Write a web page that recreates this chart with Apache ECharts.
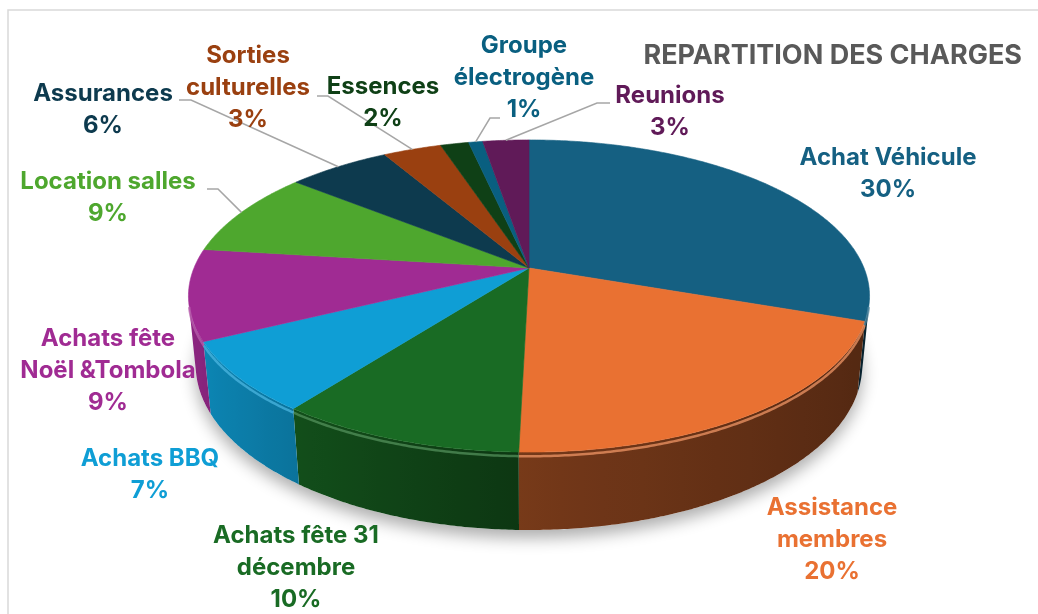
<!DOCTYPE html>
<html><head><meta charset="utf-8">
<script src="https://cdn.jsdelivr.net/npm/echarts@6/dist/echarts.min.js"></script>
<style>html,body{margin:0;padding:0;background:#fff}#c{width:1038px;height:614px}</style>
</head><body><div id="c"></div>
<script>
// ---------- data ----------
const categories = ['Achat Véhicule','Assistance membres','Achats fête 31 décembre','Achats BBQ','Achats fête Noël &Tombola','Location salles','Assurances','Sorties culturelles','Essences','Groupe électrogène','Reunions'];
const values = [30.4, 20.0, 9.9, 7.3, 9.4, 8.9, 5.8, 3.3, 1.6, 0.8, 2.6];
const colors = ['#156082','#E97132','#196B24','#0F9ED5','#A02B93','#4EA72E','#0D3A4E','#9A4010','#0F4016','#095F80','#601A58'];
const titleText = 'REPARTITION DES CHARGES';

// ---------- layout (view + label placement) ----------
const VIEW = {cx: 529, cy: 268, f: 1666, dist: 4.973, phi: 26.8, h: 0.2323};
const FONT = 'bold 24px Inter';
const LINE_H = 32;
const labelLayout = [
  {x: 888, y: 174, br: []},
  {x: 832, y: 540, br: [1]},
  {x: 296, y: 568, br: [3]},
  {x: 150, y: 475, br: []},
  {x: 108, y: 371, br: [2]},
  {x: 108, y: 198, br: [], leader: [[207,189],[218,189]]},
  {x: 103, y: 110, br: [], leader: [[179,100],[191,100]]},
  {x: 248, y: 88,  br: [1], leader: [[317,96],[328,96]]},
  {x: 383, y: 103, br: []},
  {x: 524, y: 78,  br: [1], leader: [[500,118],[490,118]]},
  {x: 670, y: 112, br: [], leader: [[610,103],[597,103]]}
];

// ---------- helpers ----------
const total = values.reduce((a, b) => a + b, 0);
const cum = []; { let acc = 0; values.forEach(v => { cum.push(acc); acc += v; }); }
const DEG = Math.PI / 180;
const sP = Math.sin(VIEW.phi * DEG), cP = Math.cos(VIEW.phi * DEG);
function proj(theta, y) {
  const t = theta * DEG, X = Math.sin(t), Z = -Math.cos(t);
  const depth = VIEW.dist - y * sP - Z * cP;
  const up = y * cP - Z * sP;
  return [VIEW.cx + VIEW.f * X / depth, VIEW.cy - VIEW.f * up / depth];
}
const VIS = Math.acos(-1 / (VIEW.dist * cP)) / DEG; // silhouette angle
const VIS0 = VIS, VIS1 = 360 - VIS;
function rim(a0, a1, y) {
  const pts = []; const n = Math.max(2, Math.ceil((a1 - a0) / 0.5));
  for (let k = 0; k <= n; k++) pts.push(proj(a0 + (a1 - a0) * k / n, y));
  return pts;
}
function rgb(hex) { return [1,3,5].map(i => parseInt(hex.substr(i, 2), 16)); }
function shadeCol(hex, f) { const c = rgb(hex).map(v => Math.max(0, Math.min(255, Math.round(v * f)))); return `rgb(${c[0]},${c[1]},${c[2]})`; }
function lighten(hex, t) { const c = rgb(hex).map(v => Math.round(v + (255 - v) * t)); return `rgb(${c[0]},${c[1]},${c[2]})`; }
function wallShade(theta) { const s = Math.sin(theta * DEG); return s < 0 ? 0.5 - 0.38 * s : 0.5 - 0.15 * s; }
function wrapName(name, br) {
  const w = name.split(' '); let out = '';
  w.forEach((word, k) => { out += word; if (k < w.length - 1) out += br.includes(k + 1) ? '\n' : ' '; });
  return out;
}

function renderItem(params, api) {
  const i = params.dataIndex;
  const a0 = cum[i] / total * 360, a1 = (cum[i] + values[i]) / total * 360;
  const col = colors[i];
  const ch = [];
  if (i === 0) {
    ch.push({type: 'polygon', shape: {points: rim(0, 360, -VIEW.h)}, z2: 0,
      style: {fill: '#ffffff', shadowBlur: 16, shadowOffsetY: 8, shadowColor: 'rgba(0,0,0,0.32)'}});
  }
  // top face
  ch.push({type: 'polygon', z2: 10, shape: {points: [[VIEW.cx, VIEW.cy]].concat(rim(a0, a1, 0))},
    style: {fill: col, stroke: col, lineWidth: 0.6}});
  // wall
  const w0 = Math.max(a0, VIS0), w1 = Math.min(a1, VIS1);
  if (w1 > w0) {
    const top = rim(w0, w1, 0), bot = rim(w0, w1, -VIEW.h).reverse();
    const pts = top.concat(bot);
    const xs = pts.map(p => p[0]); const xmin = Math.min(...xs), xmax = Math.max(...xs);
    const stops = [];
    for (let k = 0; k <= 12; k++) {
      const th = w0 + (w1 - w0) * k / 12;
      const x = (proj(th, 0)[0] + proj(th, -VIEW.h)[0]) / 2;
      stops.push({offset: Math.max(0, Math.min(1, (x - xmin) / Math.max(1, xmax - xmin))), color: shadeCol(col, wallShade(th))});
    }
    stops.sort((p, q) => p.offset - q.offset);
    ch.push({type: 'polygon', z2: 5, shape: {points: pts},
      style: {fill: new echarts.graphic.LinearGradient(0, 0, 1, 0, stops), stroke: null}});
    ch.push({type: 'polyline', z2: 11, shape: {points: rim(w0, w1, -0.012)},
      style: {stroke: lighten(col, 0.25), lineWidth: 2.5, opacity: 0.75, fill: null}});
  }
  // label
  const L = labelLayout[i];
  const pct = Math.round(values[i] / total * 100) + '%';
  ch.push({type: 'text', z2: 30, x: L.x, y: L.y,
    style: {text: wrapName(categories[i], L.br) + '\n' + pct, fill: col, font: FONT,
      align: 'center', verticalAlign: 'middle', textAlign: 'center', textVerticalAlign: 'middle', lineHeight: LINE_H}});
  if (L.leader) {
    const mid = proj((a0 + a1) / 2, 0);
    ch.push({type: 'polyline', z2: 25, shape: {points: [L.leader[0], L.leader[1], mid]},
      style: {stroke: '#A6A6A6', lineWidth: 1.5, fill: null}});
  }
  return {type: 'group', children: ch};
}

const chart = echarts.init(document.getElementById('c'), null, {renderer: 'canvas'});
chart.setOption({
  animation: false,
  backgroundColor: '#ffffff',
  graphic: [
    {type: 'rect', shape: {x: 8, y: 10, width: 1100, height: 700}, style: {fill: null, stroke: '#D9D9D9', lineWidth: 1.5}, z: 0, silent: true},
    {type: 'text', x: 1022, y: 56, style: {text: titleText, fill: '#595959', font: 'bold 27px Inter', align: 'right', verticalAlign: 'middle', textAlign: 'right', textVerticalAlign: 'middle'}, z: 10}
  ],
  series: [{type: 'custom', coordinateSystem: 'none', silent: true, data: values.map((v, i) => [i, v]), renderItem: renderItem}]
});
</script></body></html>
